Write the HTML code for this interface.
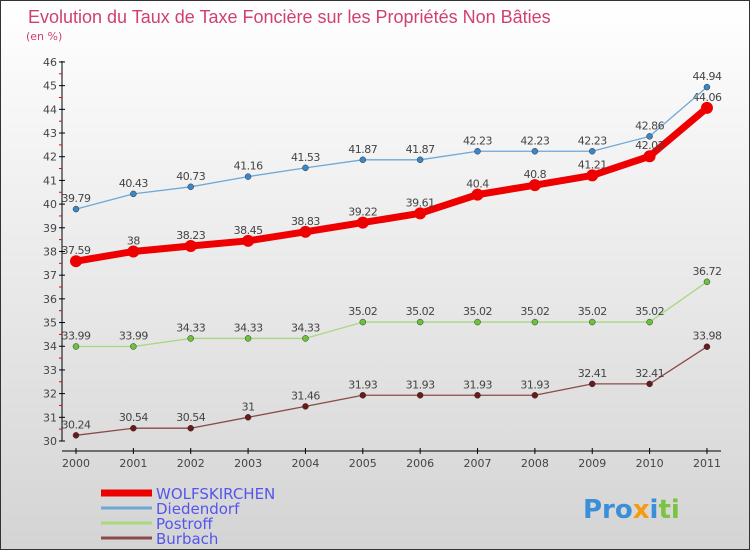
<!DOCTYPE html>
<html><head><meta charset="utf-8"><style>
body{margin:0}
#c{position:relative;width:748px;height:548px;border:1px solid #333;background:linear-gradient(#fff,#d4d4d4);font-family:"DejaVu Sans","Liberation Sans",sans-serif;overflow:hidden}
</style></head><body>
<div id="c">
<svg id="s" width="748" height="548" xmlns="http://www.w3.org/2000/svg">
<text x="27" y="22" font-size="18" font-family="Liberation Sans, sans-serif" fill="#d04070">Evolution du Taux de Taxe Foncière sur les Propriétés Non Bâties</text>
<text x="25" y="39" font-size="11" fill="#d04070">(en %)</text>
<g id="axes"></g><g id="series"></g><g id="legend"></g>
<text x="582" y="517" font-size="26" font-weight="600" fill="#3b8fd8">Pro<tspan fill="#f39c12">x</tspan>i<tspan fill="#7cc243">ti</tspan></text>
</svg></div>
<script>
const years=["2000","2001","2002","2003","2004","2005","2006","2007","2008","2009","2010","2011"];
const yTicks=[30,31,32,33,34,35,36,37,38,39,40,41,42,43,44,45,46];
const wolfs=[37.59,38,38.23,38.45,38.83,39.22,39.61,40.4,40.8,41.21,42.02,44.06];
const died=[39.79,40.43,40.73,41.16,41.53,41.87,41.87,42.23,42.23,42.23,42.86,44.94];
const postr=[33.99,33.99,34.33,34.33,34.33,35.02,35.02,35.02,35.02,35.02,35.02,36.72];
const burb=[30.24,30.54,30.54,31,31.46,31.93,31.93,31.93,31.93,32.41,32.41,33.98];
const NS="http://www.w3.org/2000/svg";
const X=i=>75+i*57.36, Y=v=>440-(v-30)*23.69;
function mk(t,a,p){const e=document.createElementNS(NS,t);for(const k in a)e.setAttribute(k,a[k]);p.appendChild(e);return e;}
const ax=document.getElementById('axes');
let l=mk('line',{x1:61,y1:60,x2:61,y2:440,stroke:'#000'},ax);
l=mk('line',{x1:61,y1:450,x2:720,y2:450,stroke:'#000'},ax);
yTicks.forEach((v,i)=>{const y=Y(v);mk('line',{x1:58,y1:y,x2:64,y2:y,stroke:'#000'},ax);
if(i<yTicks.length-1)mk('line',{x1:58,y1:y-11.85,x2:61,y2:y-11.85,stroke:'#e00'},ax);
const t=mk('text',{x:56,y:y+4,'text-anchor':'end','font-size':11,fill:'#444'},ax);t.textContent=v;
});
years.forEach((yr,i)=>{const x=X(i);mk('line',{x1:x,y1:447,x2:x,y2:453,stroke:'#000'},ax);
const t=mk('text',{x:x,y:466,'text-anchor':'middle','font-size':11,fill:'#444'},ax);t.textContent=yr;
});
const sg=document.getElementById('series');
const defs=[["wolfskirchen",wolfs,"#ee0000","#ee0000",7,6],["diedendorf",died,"#6fa8d6","#3a86c8",1.3,3],["postroff",postr,"#a8d880","#6cc23a",1.3,3],["burbach",burb,"#8a4a4a","#6a1a1a",1.3,3]];
defs.forEach(([n,d,c,mc,w,r])=>{
const p=mk('polyline',{points:d.map((v,i)=>X(i)+','+Y(v)).join(' '),fill:'none',stroke:c,'stroke-width':w,'stroke-linejoin':'round'},sg);

d.forEach((v,i)=>{const m=mk('circle',{cx:X(i),cy:Y(v),r:r,fill:mc,stroke:r>4?'none':'#333','stroke-width':0.5},sg);

const t=mk('text',{x:X(i),y:Y(v)-7,'text-anchor':'middle','font-size':11,fill:'#444','letter-spacing':'-0.5'},sg);t.textContent=v;
});});
const lg=document.getElementById('legend');
const ln=[["WOLFSKIRCHEN","#ee0000",7],["Diedendorf","#6fa8d6",3],["Postroff","#a8d880",3],["Burbach","#8a4a4a",3]];
ln.forEach(([n,c,w],i)=>{const y=492+i*15;
const r=mk('line',{x1:100,y1:y,x2:151,y2:y,stroke:c,'stroke-width':w},lg);
const t=mk('text',{x:155,y:y+6,'font-size':15,fill:'#5555ee'},lg);t.textContent=n;});
</script></body></html>
